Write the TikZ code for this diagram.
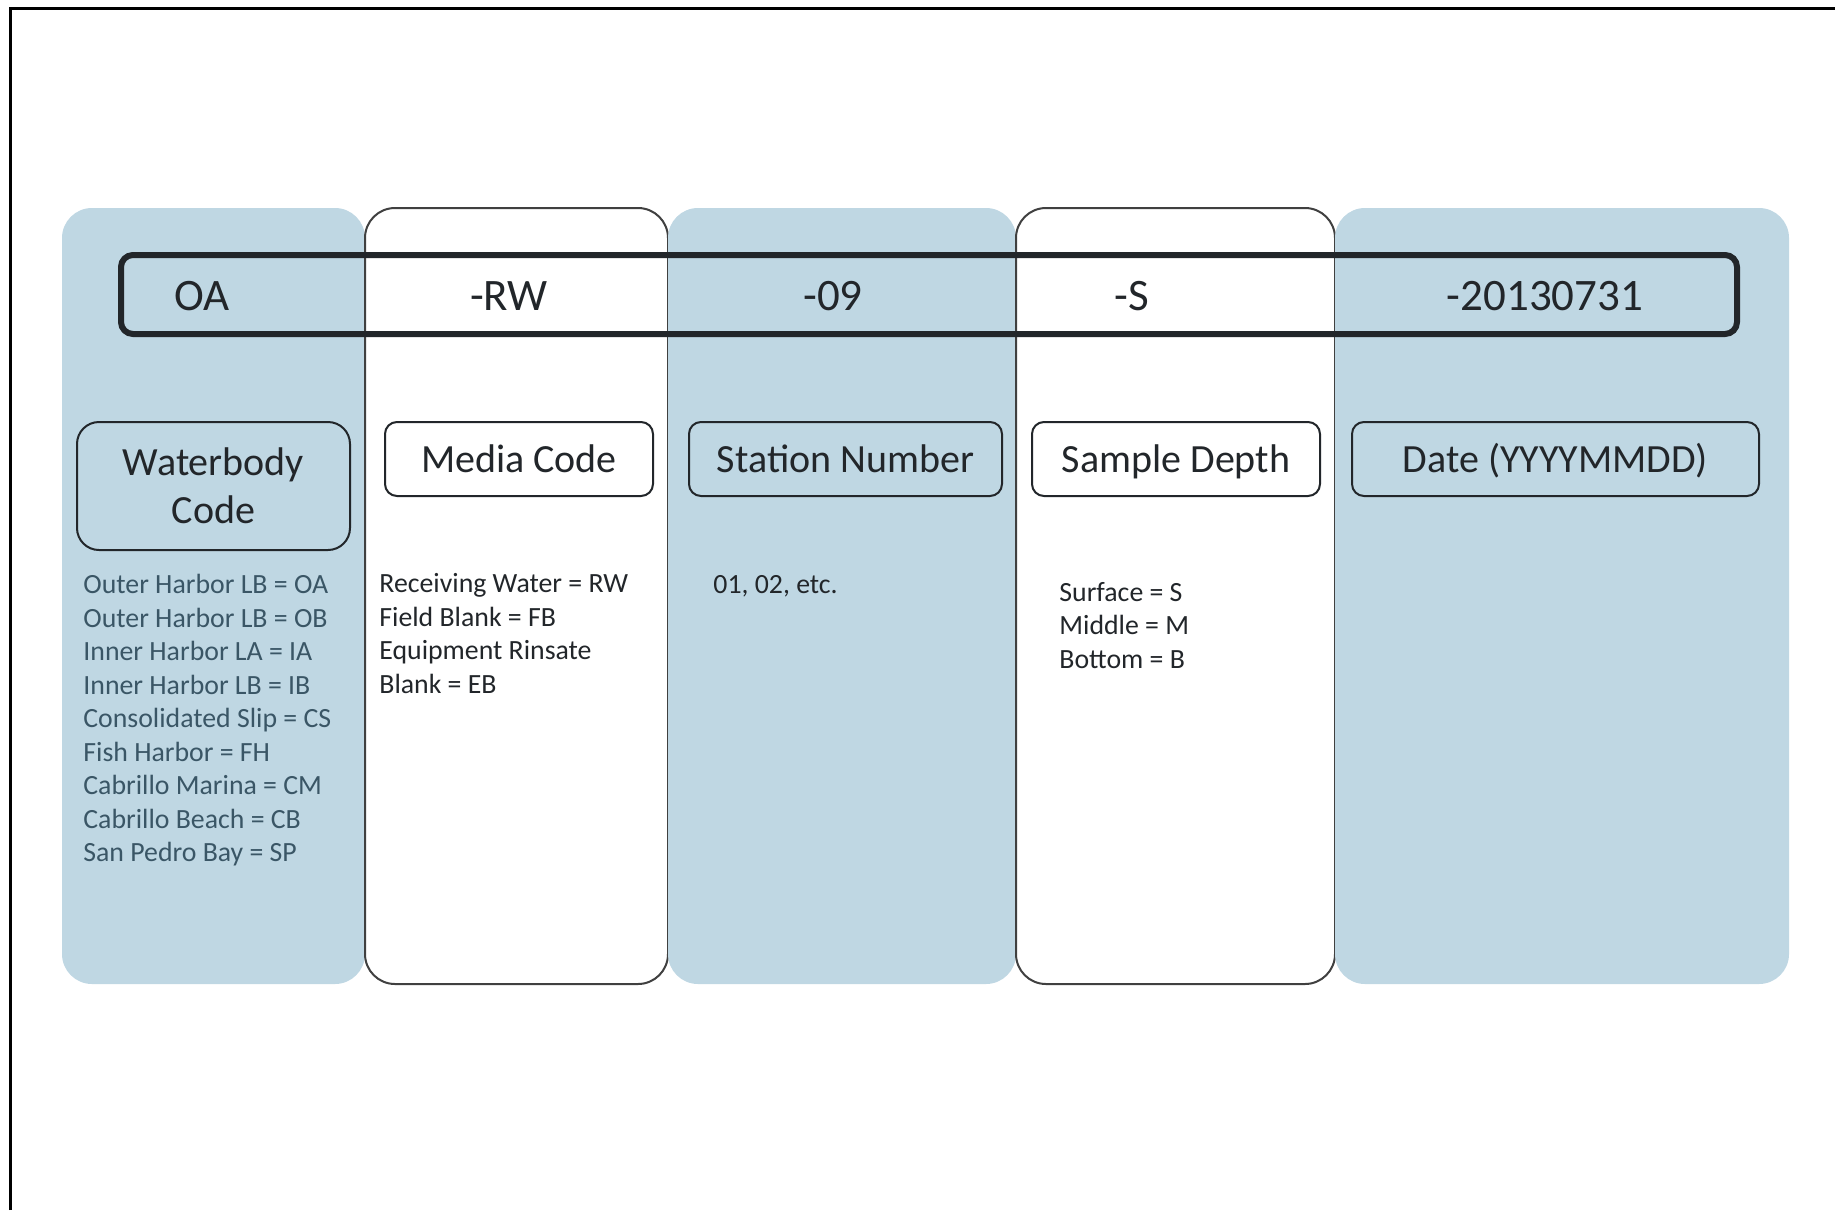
\documentclass[tikz,border=0pt]{standalone}
\usepackage{fontspec}
\setmainfont{Carlito}
\usetikzlibrary{positioning}
\definecolor{paleblue}{RGB}{191,215,227}
\definecolor{slate}{RGB}{58,86,102}
\definecolor{inkgray}{RGB}{34,38,42}
\definecolor{edgegray}{RGB}{64,64,64}

\tikzset{
  bluepanel/.style={fill=paleblue, rounded corners=15pt},
  whitepanel/.style={draw=edgegray, line width=1pt, fill=white, rounded corners=15pt},
  codebar/.style={draw=inkgray, line width=3pt, rounded corners=6pt},
  codetext/.style={anchor=base, text=inkgray, font=\fontsize{22.5}{27}\selectfont},
  headbox/.style={draw=inkgray, line width=1pt, rounded corners=6pt, align=center,
    text=inkgray, font=\fontsize{20}{24}\selectfont},
  oneline/.style={text height=16pt, text depth=3pt},
  listtext/.style={anchor=north west, inner sep=0pt, align=left, text=inkgray,
    font=\fontsize{13.9}{16.75}\selectfont}
}

\begin{document}
\begin{tikzpicture}[x=0.5pt, y=-0.5pt]
    \useasboundingbox (0,0) rectangle (1835,1210);
    % Frame
    \draw[line width=1.5pt] (10.5,1210) -- (10.5,8.5) -- (1835,8.5);
    % Column panels
    \fill[bluepanel] (62,208) rectangle (365,984);
    \draw[whitepanel] (365,208) rectangle (668,984);
    \fill[bluepanel] (668,208) rectangle (1016,984);
    \draw[whitepanel] (1016,208) rectangle (1335,984);
    \fill[bluepanel] (1335,208) rectangle (1789,984);
    % Sample code bar
    \draw[codebar] (121,255) rectangle (1737,334);
    \node[codetext] (oa) at (202,310) {OA};
    \node[codetext] (rw) at (509,310) {-RW};
    \node[codetext] (st) at (833,310) {-09};
    \node[codetext] (dp) at (1132,310) {-S};
    \node[codetext] (dt) at (1545,310) {-20130731};
    % Headings
    \node[headbox, rounded corners=11pt, minimum width=136.5pt, minimum height=64pt] (waterbody) at (213.5,486) {Waterbody\\Code};
    \node[headbox, oneline, minimum width=134pt, minimum height=37pt] (media) at (519,459) {Media Code};
    \node[headbox, oneline, minimum width=156.5pt, minimum height=37pt] (station) at (845.5,459) {Station Number};
    \node[headbox, oneline, minimum width=144pt, minimum height=37pt] (depth) at (1176,459) {Sample Depth};
    \node[headbox, oneline, minimum width=203.5pt, minimum height=37pt] (date) at (1555.5,459) {Date (YYYYMMDD)};
    % Code lists
    \node[listtext, text=slate] (waterlist) at (83,574) {Outer Harbor LB = OA\\Outer Harbor LB = OB\\Inner Harbor LA = IA\\Inner Harbor LB = IB\\Consolidated Slip = CS\\Fish Harbor = FH\\Cabrillo Marina = CM\\Cabrillo Beach = CB\\San Pedro Bay = SP};
    \node[listtext] (medialist) at (379,573) {Receiving\ Water = RW\\Field Blank = FB\\Equipment Rinsate\\Blank = EB};
    \node[listtext] (stationlist) at (713,575) {01, 02, etc.};
    \node[listtext] (depthlist) at (1059,582) {Surface = S\\Middle = M\\Bottom = B};
\end{tikzpicture}
\end{document}
